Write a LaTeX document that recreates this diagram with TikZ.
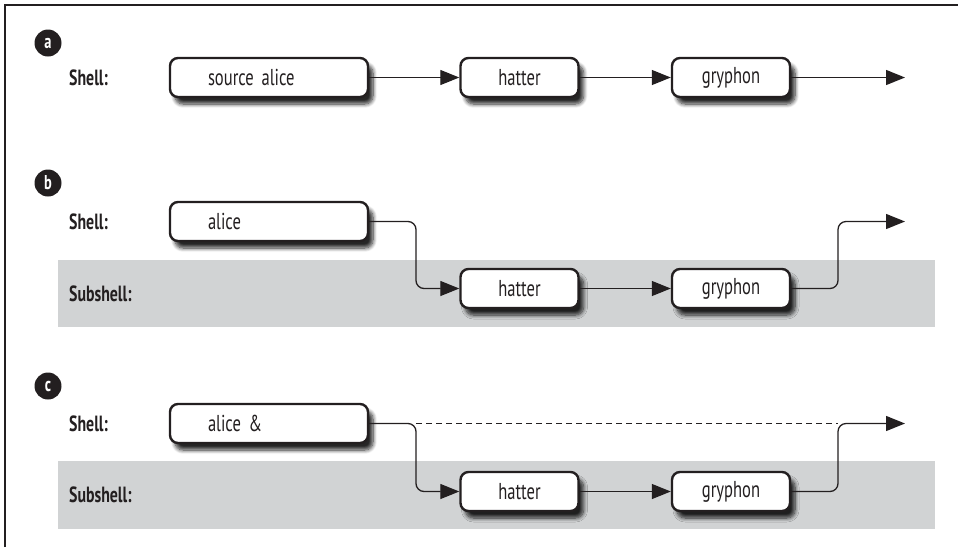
\documentclass[tikz,border=0pt]{standalone}
\usepackage{fontspec}
\setmainfont{PT Sans}[FakeStretch=0.72]
\usetikzlibrary{arrows.meta,shadows.blur}
\definecolor{ink}{HTML}{231F20}
\definecolor{bandgray}{HTML}{D1D3D4}
\newcommand\myboxfont{\fontsize{23}{25}\selectfont\fontdimen2\font=3.5pt\relax}
\begin{document}
\begin{tikzpicture}[x=1pt,y=-1pt,
  box/.style={draw=ink, line width=2.4pt, rounded corners=8pt, fill=white,
    minimum height=39pt, inner ysep=0pt, text=ink,
    font=\myboxfont,
    blur shadow={shadow xshift=5pt, shadow yshift=-7pt, shadow blur radius=4pt, shadow opacity=85, shadow blur steps=8}},
  shellbox/.style={box, text width=122pt, inner xsep=38pt, align=left},
  procbox/.style={box, minimum width=118pt, inner xsep=0pt},
  lbl/.style={anchor=west, inner sep=0pt, text=ink, font=\bfseries\fontsize{22}{24}\selectfont},
  badge/.style={circle, fill=ink, minimum size=27pt, inner sep=0pt, text=white,
    font=\bfseries\fontsize{20}{20}\selectfont},
  conn/.style={draw=ink, line width=1.3pt, rounded corners=8pt, -{Triangle[length=19pt,width=15pt]}},
  dashline/.style={draw=ink, line width=1.3pt, dash pattern=on 6pt off 4pt},
  bandfill/.style={fill=bandgray, draw=none}]
\useasboundingbox (0,0) rectangle (958,547);
% frame (left and top)
\draw[ink, line width=1.3pt] (5,547) -- (5,5) -- (958,5);
% grey subshell bands
\fill[bandgray] (58,260) rectangle (935,327);
\fill[bandgray] (58,461) rectangle (935,529);
% badges
\node[badge] (ba) at (48,43) {a};
\node[badge] (bb) at (48,183) {b};
\node[badge] (bc) at (48,386) {c};
% row labels
\node[lbl] (la) at (69,77.5) {Shell:};
\node[lbl] (lb) at (69,221.5) {Shell:};
\node[lbl] (lbs) at (69,293.5) {Subshell:};
\node[lbl] (lc) at (69,423.5) {Shell:};
\node[lbl] (lcs) at (69,494.5) {Subshell:};
% row a
\node[shellbox] (s1) at (269,77.5) {source alice};
\node[procbox] (h1) at (519.5,77.5) {hatter};
\node[procbox] (g1) at (731,77.5) {gryphon};
\coordinate (e1) at (905,77.5);
\draw[conn] (s1.east) -- (h1.west);
\draw[conn] (h1.east) -- (g1.west);
\draw[conn] (g1.east) -- (e1);
% row b
\node[shellbox] (s2) at (269,221.5) {alice};
\node[procbox] (h2) at (519.5,288.5) {hatter};
\node[procbox] (g2) at (731,288.5) {gryphon};
\coordinate (d2) at (416,221.5);
\coordinate (u2) at (838,288.5);
\coordinate (e2) at (905,221.5);
\draw[conn] (s2.east) -- (d2) |- (h2.west);
\draw[conn] (h2.east) -- (g2.west);
\draw[conn] (g2.east) -- (u2) |- (e2);
% row c
\node[shellbox] (s3) at (269,423.5) {alice \&};
\node[procbox] (h3) at (519.5,491.5) {hatter};
\node[procbox] (g3) at (731,491.5) {gryphon};
\coordinate (d3) at (416,423.5);
\coordinate (r3) at (838,423.5);
\coordinate (u3) at (838,491.5);
\coordinate (e3) at (905,423.5);
\draw[dashline] (d3) -- (r3);
\draw[conn] (s3.east) -- (d3) |- (h3.west);
\draw[conn] (h3.east) -- (g3.west);
\draw[conn] (g3.east) -- (u3) |- (e3);
\end{tikzpicture}
\end{document}
